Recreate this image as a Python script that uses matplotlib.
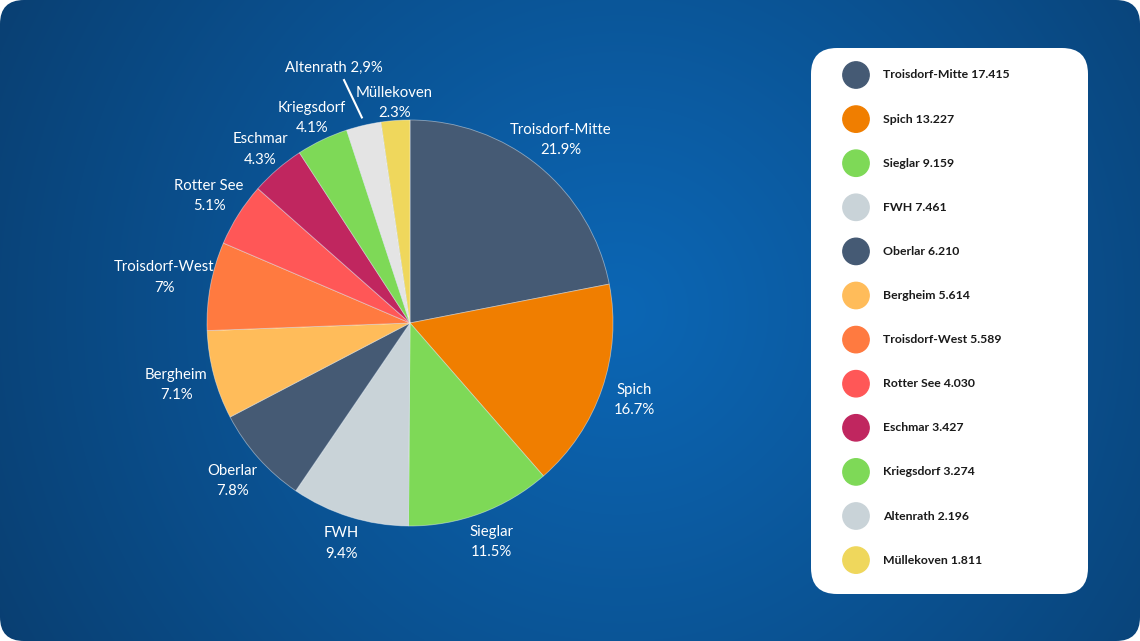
import numpy as np
import matplotlib.pyplot as plt
from matplotlib.patches import FancyBboxPatch

plt.rcParams['font.family'] = ['Lato', 'DejaVu Sans']

# Data: residents per district (in thousands)
districts = ['Troisdorf-Mitte', 'Spich', 'Sieglar', 'FWH', 'Oberlar', 'Bergheim',
             'Troisdorf-West', 'Rotter See', 'Eschmar', 'Kriegsdorf', 'Altenrath', 'Müllekoven']
residents = [17.415, 13.227, 9.159, 7.461, 6.210, 5.614, 5.589, 4.030, 3.427, 3.274, 2.196, 1.811]
share_labels = ['21.9%', '16.7%', '11.5%', '9.4%', '7.8%', '7.1%', '7%', '5.1%',
                '4.3%', '4.1%', '2,9%', '2.3%']

slice_colors = ['#455a74', '#f07e00', '#7ed957', '#c9d3d8', '#455a74', '#ffbc5a',
                '#ff7a40', '#ff5757', '#c0265f', '#7ed957', '#e4e4e4', '#efd75c']
legend_colors = slice_colors[:10] + ['#c9d3d8', '#efd75c']

W, H = 1140, 641
fig = plt.figure(figsize=(W / 100, H / 100), dpi=100)
fig.patch.set_facecolor('white')

# background panel with radial gradient
bg = fig.add_axes([0, 0, 1, 1])
bg.axis('off')
yy, xx = np.mgrid[0:H, 0:W]
d = np.clip(np.hypot(xx - 620, yy - 310) / 720, 0, 1)
c0 = np.array([12, 102, 180]) / 255
c1 = np.array([9, 62, 112]) / 255
img = c0 + (c1 - c0) * d[..., None] ** 1.1
im = bg.imshow(img, extent=(0, W, H, 0), aspect='auto', interpolation='bilinear')
panel = FancyBboxPatch((0, 0), W, H, boxstyle='round,pad=0,rounding_size=24',
                       facecolor='none', edgecolor='none', transform=bg.transData)
bg.add_patch(panel)
im.set_clip_path(panel)
bg.set_xlim(0, W)
bg.set_ylim(H, 0)

# legend card
card = FancyBboxPatch((811, 48), 277, 546, boxstyle='round,pad=0,rounding_size=26',
                      facecolor='white', edgecolor='none')
bg.add_patch(card)
rows = 75 + 44.1 * np.arange(len(districts))
bg.scatter(np.full(len(districts), 856), rows, s=360, c=legend_colors, zorder=3)
for y, name, val in zip(rows, districts, residents):
    bg.text(883, y, f'{name} {val:.3f}', fontsize=8.8, fontweight='bold',
            color='#1a1a1a', va='center', ha='left')

# pie
cx, cy, R = 410, 323, 203
half = 300
ax = fig.add_axes([(cx - half) / W, (H - cy - half) / H, 2 * half / W, 2 * half / H])
wedges, _ = ax.pie(residents, colors=slice_colors, startangle=90, counterclock=False,
                   radius=1, wedgeprops=dict(edgecolor=(1, 1, 1, 0.45), linewidth=0.6))
ax.set_xlim(-half / R, half / R)
ax.set_ylim(-half / R, half / R)
ax.axis('off')

for w, name, pct in zip(wedges, districts, share_labels):
    mid = np.deg2rad((w.theta1 + w.theta2) / 2)
    if name == 'Altenrath':
        ax.plot([1.04 * np.cos(mid), 1.24 * np.cos(mid + 0.035)],
                [1.04 * np.sin(mid), 1.24 * np.sin(mid + 0.035)], color='white', lw=1.5)
        a = mid + 0.06
        ax.text(1.31 * np.cos(a), 1.31 * np.sin(a), f'{name} {pct}', color='white',
                fontsize=10.7, ha='center', va='center')
        continue
    r = 1.13 + 0.008 * len(name) * abs(np.cos(mid)) - 0.05 * max(np.sin(mid), 0)
    ax.text(r * np.cos(mid), r * np.sin(mid), f'{name}\n{pct}', color='white',
            fontsize=10.7, ha='center', va='center', linespacing=1.6)

fig.savefig('out.png', dpi=100)
